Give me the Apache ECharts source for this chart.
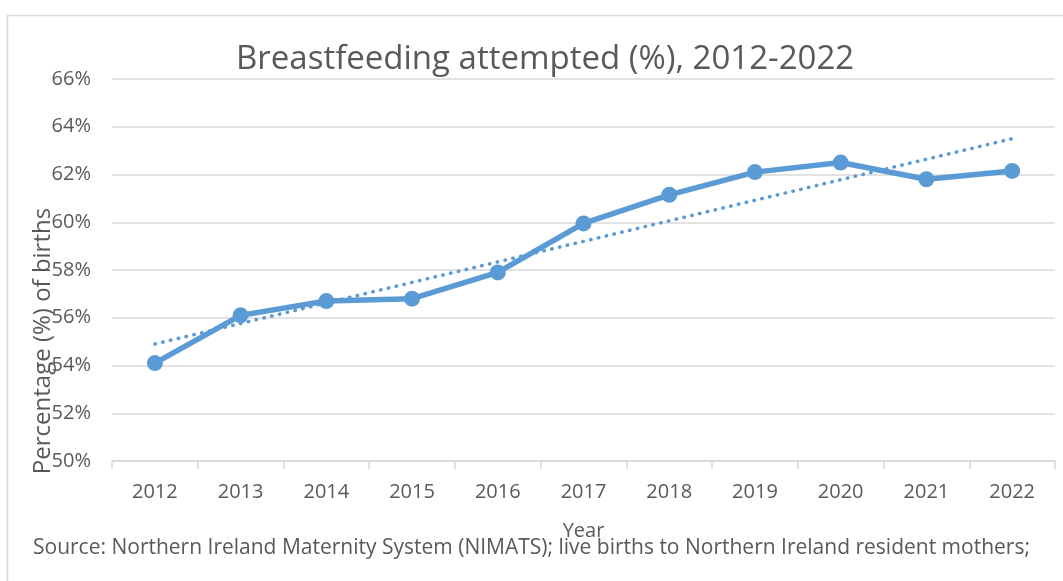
<!DOCTYPE html>
<html>
<head>
<meta charset="utf-8">
<script src="https://cdn.jsdelivr.net/npm/echarts@6/dist/echarts.min.js"></script>
<style>
html,body{margin:0;padding:0;background:#fff;}
#chart{width:1063px;height:581px;}
</style>
</head>
<body>
<div id="chart"></div>
<script>
var years = ['2012','2013','2014','2015','2016','2017','2018','2019','2020','2021','2022'];
var attempted = [54.1, 56.1, 56.7, 56.8, 57.9, 59.95, 61.15, 62.1, 62.5, 61.8, 62.15];
// linear trendline (value at 2012 and at 2022)
var trendEnds = [54.9, 63.5];
var yTicks = [50, 52, 54, 56, 58, 60, 62, 64, 66];

var trendData = years.map(function(y, i){
  if (i === 0) return trendEnds[0];
  if (i === years.length - 1) return trendEnds[1];
  return null;
});

var FONT = 'Open Sans';
var TXT = '#595959';
var chart = echarts.init(document.getElementById('chart'), null, {renderer:'canvas'});
chart.setOption({
  animation:false,
  backgroundColor:'#fff',
  title:{
    text:'Breastfeeding attempted (%), 2012-2022',
    left:231, top:38,
    textStyle:{fontFamily:FONT, fontSize:33, fontWeight:'normal', color:TXT}
  },
  grid:{left:112, right:8, top:79, bottom:120, containLabel:false},
  xAxis:{
    type:'category', data:years, boundaryGap:true,
    name:'Year', nameLocation:'middle', nameGap:60,
    nameTextStyle:{fontFamily:FONT, fontSize:20, color:TXT},
    axisLine:{lineStyle:{color:'#D9D9D9', width:1.5}},
    axisTick:{show:true, length:8, lineStyle:{color:'#D9D9D9', width:1.5}},
    axisLabel:{fontFamily:FONT, fontSize:20, color:TXT, margin:21}
  },
  yAxis:{
    type:'value', min:yTicks[0], max:yTicks[yTicks.length-1], interval:2,
    axisLine:{show:false}, axisTick:{show:false},
    axisLabel:{fontFamily:FONT, fontSize:20, color:TXT, margin:21,
      formatter:function(v){return v + '%';}},
    splitLine:{lineStyle:{color:'#D9D9D9', width:1.5}}
  },
  series:[
    {
      type:'line', data:attempted, z:3,
      lineStyle:{color:'#5B9BD5', width:5.5},
      itemStyle:{color:'#5B9BD5'},
      symbol:'circle', symbolSize:16
    },
    {
      type:'line', data:trendData, connectNulls:true, z:2,
      showSymbol:false, symbol:'none',
      lineStyle:{color:'#5B9BD5', width:3.5, type:[0.5,7.5], cap:'round'}
    }
  ],
  graphic:[
    {type:'rect', shape:{x:7.5, y:15.5, width:1062, height:600},
     style:{fill:'none', stroke:'#D9D9D9', lineWidth:1.5}, z:-1},
    {type:'text', x:43, y:341, rotation:Math.PI/2,
     style:{text:'Percentage (%) of births', font:'24px "Open Sans"', fill:TXT,
       align:'center', verticalAlign:'middle'}, z:10},
    {type:'text', left:33, top:538,
     style:{text:'Source: Northern Ireland Maternity System (NIMATS); live births to Northern Ireland resident mothers;',
       font:'21px "Open Sans"', fill:TXT}}
  ]
});
</script>
</body>
</html>
